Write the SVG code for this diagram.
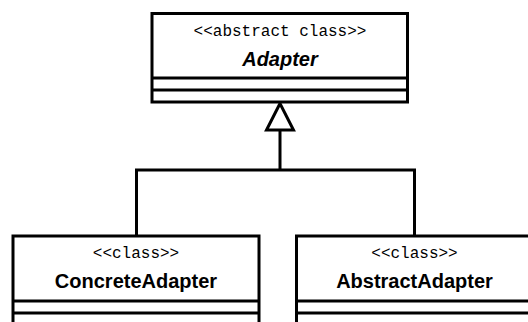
<svg xmlns="http://www.w3.org/2000/svg" width="528" height="322" viewBox="0 0 528 322">
  <style>
    .box { fill: #ffffff; stroke: #000000; stroke-width: 3; }
    .div { stroke: #000000; stroke-width: 3; fill: none; }
    .edge { stroke: #000000; stroke-width: 3; fill: none; }
    .stereo { font-family: "Liberation Mono", "Courier New", monospace; font-size: 16px; fill: #000000; text-anchor: middle; }
    .name { font-family: "Liberation Sans", Arial, sans-serif; font-size: 20px; font-weight: bold; fill: #000000; text-anchor: middle; }
    .abstract { font-style: italic; }
  </style>
  <rect width="528" height="322" fill="#ffffff"/>

  <!-- inheritance connectors -->
  <g id="connectors">
    <polyline class="edge" points="136.5,236 136.5,170 414.5,170 414.5,236"/>
    <line class="edge" x1="280" y1="170" x2="280" y2="130"/>
    <polygon class="edge" fill="#ffffff" points="280,103.5 266.5,130 293.5,130" style="fill:#ffffff"/>
  </g>

  <!-- base class -->
  <g id="adapter">
    <rect class="box" x="152" y="13.5" width="255.5" height="88.5"/>
    <line class="div" x1="152" y1="78" x2="407.5" y2="78"/>
    <line class="div" x1="152" y1="90" x2="407.5" y2="90"/>
    <text class="stereo" x="280" y="36">&lt;&lt;abstract class&gt;&gt;</text>
    <text class="name abstract" x="280" y="66">Adapter</text>
  </g>

  <!-- subclasses -->
  <g id="concrete-adapter">
    <rect class="box" x="13" y="236" width="246" height="100"/>
    <line class="div" x1="13" y1="301" x2="259" y2="301"/>
    <line class="div" x1="13" y1="313" x2="259" y2="313"/>
    <text class="stereo" x="136" y="258">&lt;&lt;class&gt;&gt;</text>
    <text class="name" x="136" y="288">ConcreteAdapter</text>
  </g>

  <g id="abstract-adapter">
    <rect class="box" x="296.5" y="236" width="236" height="100"/>
    <line class="div" x1="296.5" y1="301" x2="532.5" y2="301"/>
    <line class="div" x1="296.5" y1="313" x2="532.5" y2="313"/>
    <text class="stereo" x="414.5" y="258">&lt;&lt;class&gt;&gt;</text>
    <text class="name" x="414.5" y="288">AbstractAdapter</text>
  </g>
</svg>
